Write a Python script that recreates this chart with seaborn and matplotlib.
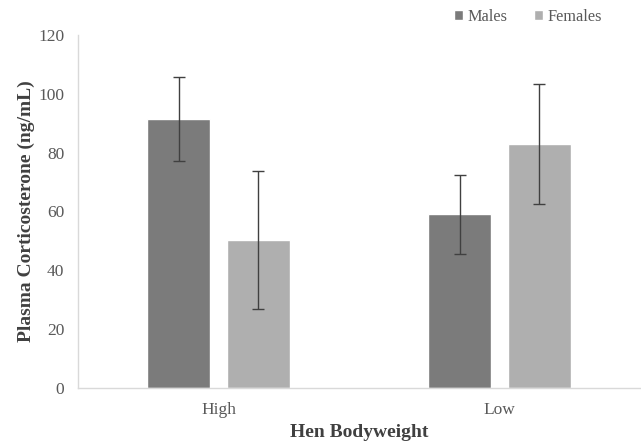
"""
Plasma corticosterone by hen bodyweight and sex
"""
import pandas as pd
import matplotlib
matplotlib.use('Agg')
import matplotlib.pyplot as plt
import seaborn as sns

# Données
bodyweight = ['High', 'Low']
sexes = ['Males', 'Females']
males_mean = [91.4, 59.1]
females_mean = [50.4, 82.8]
males_err = [14.4, 13.4]
females_err = [23.4, 20.4]

df = pd.DataFrame({
    'Bodyweight': bodyweight * 2,
    'Sex': ['Males'] * 2 + ['Females'] * 2,
    'Cort': males_mean + females_mean,
    'Err': males_err + females_err,
})

sns.set_style('white')
plt.rcParams['font.family'] = ['Liberation Serif', 'DejaVu Serif']

fig = plt.figure(figsize=(6.41, 4.42), dpi=100)
ax = fig.add_axes([0.122, 0.122, 0.876, 0.799])

palette = {'Males': '#7b7b7b', 'Females': '#afafaf'}
sns.barplot(data=df, x='Bodyweight', y='Cort', hue='Sex', hue_order=sexes,
            order=bodyweight, palette=palette, width=0.567, gap=0.21,
            saturation=1, errorbar=None, ax=ax)

# barres d'erreur aux centres des barres
for patch, (_, row) in zip(ax.patches, df.iterrows()):
    cx = patch.get_x() + patch.get_width() / 2
    ax.errorbar(cx, patch.get_height(), yerr=row['Err'], fmt='none',
                ecolor='#404040', elinewidth=1, capsize=4, capthick=1)

ax.set_ylim(0, 120)
ax.set_yticks(range(0, 121, 20))
ax.set_xlim(-0.5, 1.5)
ax.tick_params(axis='both', length=0, labelsize=12.5, labelcolor='#595959')
ax.tick_params(axis='x', pad=10)
ax.tick_params(axis='y', pad=10)

for side in ['top', 'right']:
    ax.spines[side].set_visible(False)
for side in ['left', 'bottom']:
    ax.spines[side].set_color('#d9d9d9')
    ax.spines[side].set_linewidth(1)

ax.set_xlabel('Hen Bodyweight', fontsize=14, fontweight='bold', color='#404040', labelpad=4)
ax.set_ylabel('Plasma Corticosterone (ng/mL)', fontsize=14, fontweight='bold', color='#404040', labelpad=2)

ax.legend(loc='center right', bbox_to_anchor=(0.933, 1.052), ncol=2, frameon=False,
          fontsize=11.7, labelcolor='#595959', handlelength=0.55, handleheight=0.55,
          handletextpad=0.3, columnspacing=1.6, borderpad=0, borderaxespad=0)

fig.savefig('out.png', dpi=100)
plt.close(fig)
